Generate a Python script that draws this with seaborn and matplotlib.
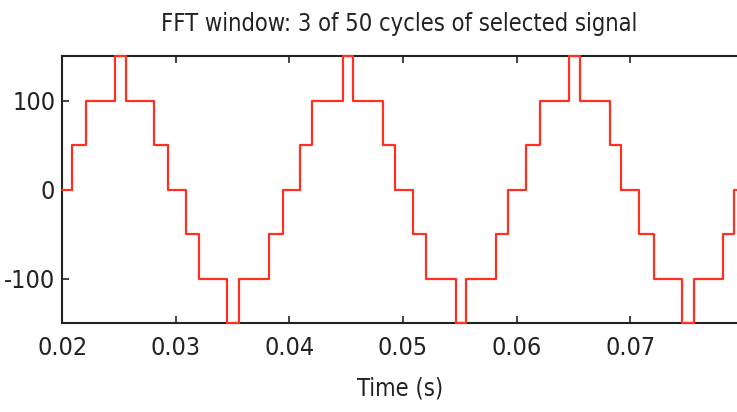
import numpy as np
import pandas as pd
import matplotlib
matplotlib.use("Agg")
import matplotlib.pyplot as plt
import seaborn as sns

# switching instants of the staircase signal (s) and the level held after each
time_s = [0.0200, 0.0209, 0.0221, 0.0246, 0.0256, 0.0281, 0.0293, 0.0309, 0.0320,
          0.0345, 0.0356, 0.0382, 0.0394, 0.0409, 0.0420, 0.0447, 0.0456, 0.0482,
          0.0493, 0.0509, 0.0520, 0.0547, 0.0555, 0.0582, 0.0592, 0.0608, 0.0621,
          0.0646, 0.0656, 0.0682, 0.0692, 0.0708, 0.0721, 0.0746, 0.0756, 0.0782,
          0.0791, 0.0800]
level = [0, 50, 100, 150, 100, 50, 0, -50, -100,
         -150, -100, -50, 0, 50, 100, 150, 100, 50,
         0, -50, -100, -150, -100, -50, 0, 50, 100,
         150, 100, 50, 0, -50, -100, -150, -100, -50,
         0, 0]

xticks = [0.02, 0.03, 0.04, 0.05, 0.06, 0.07]
xticklabels = ["0.02", "0.03", "0.04", "0.05", "0.06", "0.07"]
yticks = [-100, 0, 100]
yticklabels = ["-100", "0", "100"]

df = pd.DataFrame({"t": time_s, "v": level})

sns.set_style("ticks")
plt.rcParams["font.family"] = ["DejaVu Sans"]
plt.rcParams["font.stretch"] = "condensed"

fig = plt.figure(figsize=(7.37, 4.12), dpi=100)
ax = fig.add_axes([0.0845, 0.216, 0.9155, 0.648])

sns.lineplot(data=df, x="t", y="v", ax=ax, color="#ff3020", lw=1.6,
             drawstyle="steps-post", estimator=None, sort=False)
ax.lines[0].set_clip_on(False)
ax.lines[0].set_zorder(3)

ax.set_xlim(0.02, 0.0794)
ax.set_ylim(-150, 150)
ax.set_xticks(xticks)
ax.set_xticklabels(xticklabels)
ax.set_yticks(yticks)
ax.set_yticklabels(yticklabels)

ax.tick_params(direction="in", length=5, width=1.2, color="#222222",
               top=True, right=False, labelsize=18, labelcolor="#222222")
ax.tick_params(axis="x", pad=9)
ax.tick_params(axis="y", pad=5)
for side in ["left", "bottom", "top"]:
    ax.spines[side].set_linewidth(1.5)
    ax.spines[side].set_color("#222222")
    ax.spines[side].set_zorder(2)
ax.spines["right"].set_visible(False)

ax.set_xlabel("Time (s)", fontsize=17, color="#222222", labelpad=12)
ax.set_ylabel("")
ax.set_title("FFT window: 3 of 50 cycles of selected signal", fontsize=17,
             color="#222222", pad=18)

fig.savefig("out.png", dpi=100)
